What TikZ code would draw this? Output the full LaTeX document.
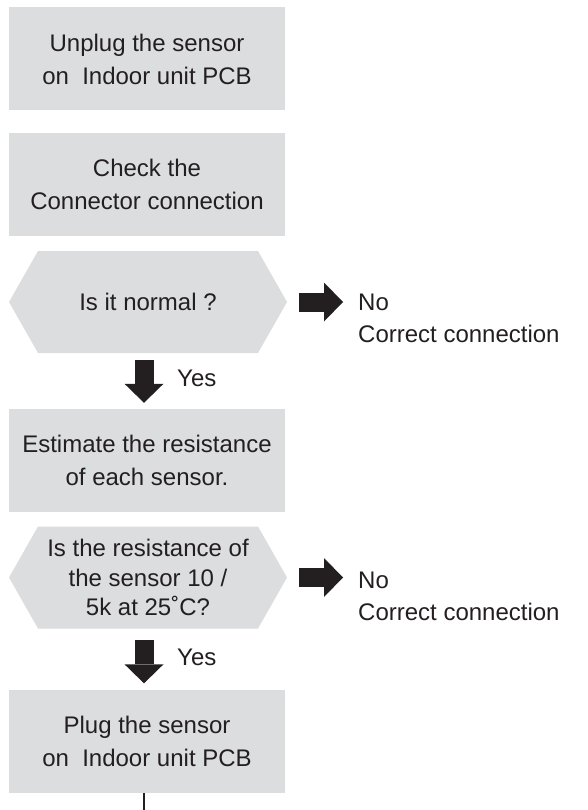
\documentclass[tikz,border=0pt]{standalone}
\usepackage{fontspec}
\setmainfont{Liberation Sans}
\usetikzlibrary{arrows.meta}
\definecolor{boxgray}{RGB}{220,221,223}
\definecolor{ink}{RGB}{35,31,32}
\tikzset{
  stepbox/.style={fill=boxgray, minimum width=276pt, minimum height=103pt, inner sep=0pt,
    align=center, text=ink, font=\fontsize{24}{33}\selectfont},
  question/.style={fill=white, minimum width=278pt, minimum height=102pt, inner sep=0pt,
    align=center, text=ink, font=\fontsize{24}{29.5}\selectfont,
    path picture={\fill[boxgray] (path picture bounding box.west)
      -- ([xshift=29pt]path picture bounding box.north west)
      -- ([xshift=-29pt]path picture bounding box.north east)
      -- (path picture bounding box.east)
      -- ([xshift=-29pt]path picture bounding box.south east)
      -- ([xshift=29pt]path picture bounding box.south west) -- cycle;}},
  answer/.style={anchor=west, inner sep=0pt, align=left, text=ink, font=\fontsize{24}{32}\selectfont},
  blockarrow/.style={draw=ink, line width=19pt, -{Triangle[width=39pt,length=19pt,line width=0pt]}}
}
\begin{document}
\begin{tikzpicture}[x=1pt,y=-1pt]
\useasboundingbox (0,0) rectangle (587,810);
\coordinate (spine) at (144,0);
\coordinate (tail) at (144,810);
% steps
\node[stepbox] (unplug) at (147,59) {Unplug the sensor\\on\ \ Indoor unit PCB};
\node[stepbox] (check) at (147,184.5) {Check the\\Connector connection};
\node[question] (normal) at (148,302) {Is it normal ?};
\node[stepbox] (estimate) at (147,460) {Estimate the resistance\\of each sensor.};
\node[question] (resist) at (148,577.5) {Is the resistance of\\the sensor 10 /\\5k at 25˚C?};
\node[stepbox] (plug) at (147,741.5) {Plug the sensor\\on\ \ Indoor unit PCB};
% answers
\node[answer] (no1) at (358,318.5) {No\\Correct connection};
\node[answer] (no2) at (358,596.5) {No\\Correct connection};
\node[answer] (yes1) at (177,378) {Yes};
\node[answer] (yes2) at (177,657) {Yes};
% arrows
\draw[blockarrow, shorten <=12pt, shorten >=15pt] (normal.east) -- (normal.east -| no1.west);
\draw[blockarrow, shorten <=12pt, shorten >=15pt] (resist.east) -- (resist.east -| no2.west);
\draw[blockarrow, shorten <=7pt, shorten >=5.5pt] (normal.south -| spine) -- (estimate.north -| spine);
\draw[blockarrow, shorten <=11.5pt, shorten >=6.5pt] (resist.south -| spine) -- (plug.north -| spine);
\draw[ink, line width=2.2pt] (plug.south -| tail) -- (tail);
\end{tikzpicture}
\end{document}
